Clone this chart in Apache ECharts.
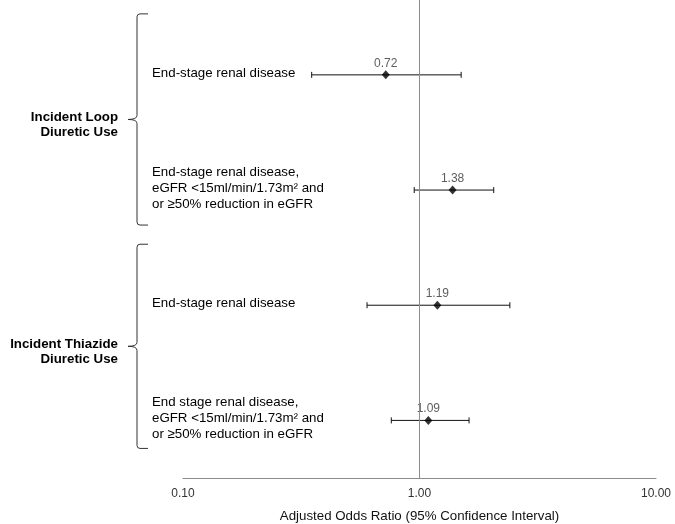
<!DOCTYPE html>
<html>
<head>
<meta charset="utf-8">
<script src="https://cdn.jsdelivr.net/npm/echarts@6/dist/echarts.min.js"></script>
<style>html,body{margin:0;padding:0;background:#fff}#c{width:675px;height:524px}</style>
</head>
<body>
<div id="c"></div>
<script>
// ---- data ----
const rowLabels = [
  'End-stage renal disease',
  'End-stage renal disease,\neGFR <15ml/min/1.73m\u00B2 and\nor \u226550% reduction in eGFR',
  'End-stage renal disease',
  'End stage renal disease,\neGFR <15ml/min/1.73m\u00B2 and\nor \u226550% reduction in eGFR'
];
const rowIndex = [1, 2, 3, 4];
const groupLabels = ['Incident Loop\nDiuretic Use', 'Incident Thiazide\nDiuretic Use'];
const groupRows = [[1, 2], [3, 4]];
const oddsRatios = [0.72, 1.38, 1.19, 1.09];
const ciLower = [0.35, 0.95, 0.60, 0.76];
const ciUpper = [1.50, 2.06, 2.41, 1.62];
const xTicks = [0.1, 1, 10];
const axisTitle = 'Adjusted Odds Ratio (95% Confidence Interval)';

// ---- layout/style ----
const FONT = 'Liberation Sans, Arial, sans-serif';
const bracketPad = [{ top: 61, bottom: 35 }, { top: 61, bottom: 28 }];

const chart = echarts.init(document.getElementById('c'), null, { renderer: 'canvas' });

const option = {
  animation: false,
  backgroundColor: '#fff',
  grid: { left: 183, right: 19, top: 0, bottom: 46, containLabel: false, outerBoundsMode: 'none' },
  xAxis: {
    type: 'log', logBase: 10, min: xTicks[0], max: xTicks[xTicks.length - 1],
    name: axisTitle, nameLocation: 'middle', nameGap: 32,
    nameTextStyle: { fontFamily: FONT, fontSize: 13.3, color: '#111' },
    axisLine: { lineStyle: { color: '#8c8c8c', width: 1 } },
    axisTick: { show: false },
    splitLine: { show: false },
    axisLabel: {
      fontFamily: FONT, fontSize: 12, color: '#333', margin: 10,
      showMinLabel: true, showMaxLabel: true,
      formatter: v => Number(v).toFixed(2)
    }
  },
  yAxis: { type: 'value', inverse: true, min: 0.35, max: 4.5, show: false },
  series: [
    {
      type: 'custom', name: 'ci', clip: false,
      data: rowIndex.map((r, i) => [r, ciLower[i], ciUpper[i]]),
      encode: { x: [1, 2], y: 0 },
      renderItem: (params, api) => {
        const r = api.value(0);
        const a = api.coord([api.value(1), r]);
        const b = api.coord([api.value(2), r]);
        const st = { stroke: '#111', lineWidth: 1 };
        return {
          type: 'group', children: [
            { type: 'line', shape: { x1: a[0], y1: a[1], x2: b[0], y2: b[1] }, style: st },
            { type: 'line', shape: { x1: a[0], y1: a[1] - 3, x2: a[0], y2: a[1] + 3 }, style: st },
            { type: 'line', shape: { x1: b[0], y1: b[1] - 3, x2: b[0], y2: b[1] + 3 }, style: st }
          ]
        };
      },
      z: 2
    },
    {
      type: 'scatter', name: 'or',
      data: rowIndex.map((r, i) => [oddsRatios[i], r]),
      symbol: 'diamond', symbolSize: [8, 9],
      itemStyle: { color: '#000' },
      label: {
        show: true, position: 'top', distance: 1,
        fontFamily: FONT, fontSize: 12, color: '#333',
        formatter: p => p.value[0].toFixed(2)
      },
      markLine: {
        silent: true, symbol: 'none', label: { show: false },
        lineStyle: { color: '#8c8c8c', width: 1, type: 'solid' },
        data: [{ xAxis: 1 }]
      },
      z: 3
    },
    {
      type: 'custom', name: 'rowLabels', clip: false, silent: true,
      data: rowIndex.map(r => [xTicks[0], r]),
      encode: { x: 0, y: 1 },
      renderItem: (params, api) => {
        const p = api.coord([api.value(0), api.value(1)]);
        return {
          type: 'text',
          style: {
            x: p[0] - 31, y: p[1] - 2,
            text: rowLabels[params.dataIndex],
            fontFamily: FONT, fontSize: 13.3, fill: '#000',
            align: 'left', verticalAlign: 'middle', lineHeight: 16
          }
        };
      }
    },
    {
      type: 'custom', name: 'groups', clip: false, silent: true,
      data: groupRows.map(g => [xTicks[0], g[0], g[1]]),
      encode: { x: 0, y: [1, 2] },
      renderItem: (params, api) => {
        const i = params.dataIndex;
        const a = api.coord([api.value(0), api.value(1)]);
        const b = api.coord([api.value(0), api.value(2)]);
        const x = a[0] - 46;
        const top = a[1] - bracketPad[i].top;
        const bot = b[1] + bracketPad[i].bottom;
        const mid = (top + bot) / 2;
        const path = 'M' + (x + 11) + ' ' + top +
          ' L' + (x + 3) + ' ' + top +
          ' Q' + x + ' ' + top + ' ' + x + ' ' + (top + 3) +
          ' L' + x + ' ' + (mid - 4) +
          ' Q' + x + ' ' + mid + ' ' + (x - 9) + ' ' + mid +
          ' Q' + x + ' ' + mid + ' ' + x + ' ' + (mid + 4) +
          ' L' + x + ' ' + (bot - 3) +
          ' Q' + x + ' ' + bot + ' ' + (x + 3) + ' ' + bot +
          ' L' + (x + 11) + ' ' + bot;
        return {
          type: 'group', children: [
            { type: 'path', shape: { pathData: path }, style: { fill: null, stroke: '#333', lineWidth: 1 } },
            {
              type: 'text',
              style: {
                x: x - 19, y: mid + 5.5,
                text: groupLabels[i],
                fontFamily: FONT, fontSize: 13.3, fontWeight: 'bold', fill: '#000',
                align: 'right', verticalAlign: 'middle', lineHeight: 15
              }
            }
          ]
        };
      }
    }
  ]
};
chart.setOption(option);
</script>
</body>
</html>
